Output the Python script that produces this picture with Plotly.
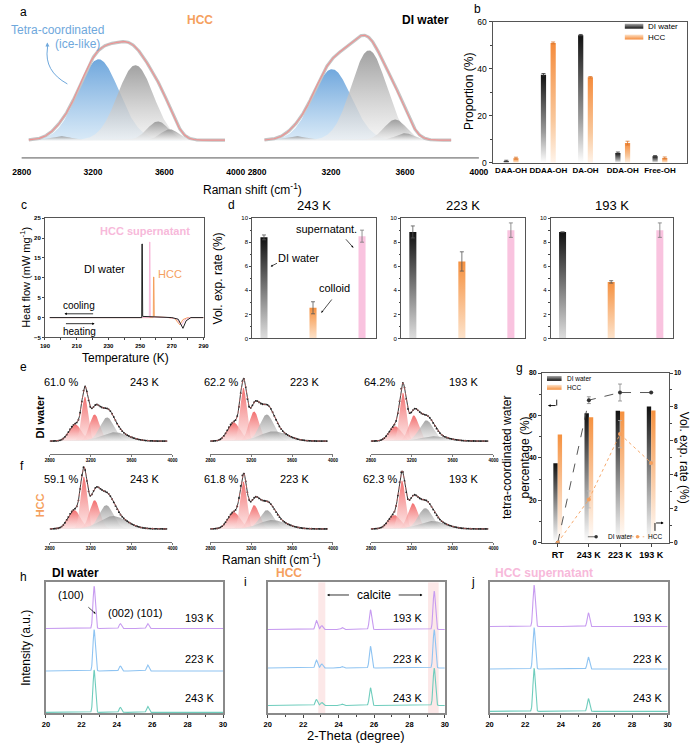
import numpy as np
import plotly.graph_objects as go

W, H = 700, 747
FONT = "Liberation Sans, Arial, Helvetica, sans-serif"
ORANGE = "#F5A05E"
PINK = "#F7B9DA"
PINK_BAR = "#F9C3DF"
BLUE_TXT = "#6FA8DC"

# ======================= DATA =======================
# (a) Raman O-H band, Gaussian fit components: centre (cm-1), sigma (cm-1), amplitude (a.u.)
a_ticks = [2800, 3200, 3600, 4000]
a_hcc_centers = [3018, 3231, 3438, 3564, 3629]
a_hcc_sigmas = [60, 115, 100, 60, 50]
a_hcc_amps = [4, 82, 76, 19, 11]
a_hcc_span = [2840, 3940]
a_di_centers = [3010, 3205, 3405, 3547, 3600]
a_di_sigmas = [60, 105, 95, 60, 50]
a_di_amps = [4, 72, 91, 21, 7]
a_di_span = [2840, 3850]
a_tetra_index = 1

# (b) proportions of H-bond species (%)
b_cats = ["DAA-OH", "DDAA-OH", "DA-OH", "DDA-OH", "Free-OH"]
b_di = [0.8, 37.5, 54.3, 4.2, 2.8]
b_di_err = [0.3, 0.5, 0.3, 0.4, 0.3]
b_hcc = [2.0, 51.0, 36.4, 8.4, 2.1]
b_hcc_err = [0.4, 0.4, 0.3, 0.8, 0.4]

# (c) DSC heat flow (mW mg-1) vs temperature (K)
c_di_T = [193, 251.0, 251.15, 251.35, 251.6, 270, 274, 277, 279, 282, 290]
c_di_Q = [0, 0, 18.5, 18.5, 0.3, 0, -0.4, -2.7, -0.8, 0, 0]
c_sup_T = [193, 255.8, 255.95, 256.15, 256.4, 268, 273, 276, 278, 281, 290]
c_sup_Q = [0, 0, 19.0, 19.0, 0.2, 0, -0.3, -2.0, -0.6, 0, 0]
c_hcc_T = [193, 258.3, 258.45, 258.65, 258.9, 268, 272, 275, 277, 280, 290]
c_hcc_Q = [0, 0, 10.2, 10.2, 0.2, 0, -0.3, -1.8, -0.5, 0, 0]

# (d) volume expansion rate (%)
d_temps = ["243 K", "223 K", "193 K"]
d_di = [8.4, 8.85, 8.85]
d_di_err = [0.2, 0.5, 0.0]
d_colloid = [2.55, 6.4, 4.7]
d_colloid_err = [0.5, 0.8, 0.1]
d_super = [8.5, 9.0, 9.0]
d_super_err = [0.5, 0.6, 0.6]

# (e)/(f) low-temperature Raman fits: 3 tetra (red) + 2 other (grey) components
ef_ticks = [2800, 3200, 3600, 4000]
ef_temps = ["243 K", "223 K", "193 K"]
e_pct = ["61.0 %", "62.2 %", "64.2%"]
f_pct = ["59.1 %", "61.8 %", "62.3 %"]
ef_sigmas = [60, 32, 50, 70, 130]
e_centers = [[3048, 3143, 3238, 3360, 3430], [3028, 3124, 3228, 3352, 3420], [3038, 3114, 3219, 3343, 3420]]
e_amps = [[17, 45, 27, 24, 9], [19, 54, 30, 27, 10], [15, 49, 26, 21, 5]]
f_centers = [[3038, 3133, 3238, 3352, 3420], [3030, 3124, 3228, 3352, 3410], [3030, 3105, 3210, 3333, 3400]]
f_amps = [[19, 53, 29, 24, 13], [17, 48, 24, 19, 9], [14, 49, 26, 21, 8]]
ef_red_count = 3
ef_span = [2800, 3950]

# (g) tetra-coordinated percentage (%) and expansion rate (%)
g_cats = ["RT", "243 K", "223 K", "193 K"]
g_tetra_di = [37.5, 61.0, 62.2, 64.2]
g_tetra_hcc = [51.0, 59.1, 61.8, 62.3]
g_vol_di = [0, 8.4, 8.85, 8.85]
g_vol_di_err = [0, 0.2, 0.5, 0]
g_vol_hcc = [0, 2.55, 6.4, 4.7]
g_vol_hcc_err = [0, 0.5, 0.8, 0.1]

# (h)(i)(j) XRD peaks: positions (deg 2-theta) and heights (a.u.) per temperature
xrd_temps = ["243 K", "223 K", "193 K"]
xrd_colors = ["#6FCDBD", "#8FC4F2", "#C79BF0"]
h_pos = [22.72, 24.2, 25.75]
h_heights = [[43, 5, 6], [42, 5, 6], [43, 5, 5]]
i_pos = [22.75, 23.05, 24.2, 25.8, 29.4]
i_heights = [[6, 3, 1.5, 18, 38], [8, 4, 1.5, 22, 39], [9, 4, 2, 20, 39]]
j_pos = [22.5, 25.55]
j_heights = [[44, 13], [42, 12], [42, 14]]
i_calcite_bands = [(22.85, 23.25), (29.05, 29.65)]
xrd_sigma = 0.065

# ======================= HELPERS =======================
traces, annots, shapes = [], [], []
layout = dict(width=W, height=H, margin=dict(l=0, r=0, t=0, b=0),
              paper_bgcolor="white", plot_bgcolor="rgba(0,0,0,0)",
              showlegend=False, font=dict(family=FONT, color="#000"))
OVX, OVY = "x30", "y30"
axis_n = [0]


def add_axes(x0, x1, ytop, ybot, xo=None, yo=None):
    axis_n[0] += 1
    n = axis_n[0]
    s = "" if n == 1 else str(n)
    base = dict(showgrid=False, zeroline=False)
    xd = dict(base, domain=[x0 / W, x1 / W], anchor="y" + s)
    xd.update(xo or {})
    yd = dict(base, domain=[1 - ybot / H, 1 - ytop / H], anchor="x" + s)
    yd.update(yo or {})
    layout["xaxis" + s] = xd
    layout["yaxis" + s] = yd
    return "x" + s, "y" + s


def box(color="#444", width=1):
    return dict(showline=True, linecolor=color, linewidth=width, mirror=True)


def tf(size, bold=False):
    d = dict(size=size, family=FONT, color="#000")
    if bold:
        d["weight"] = "bold"
    return d


def T(x, y, text, size=12, color="#000", bold=False, angle=0, xa="center", ya="middle"):
    annots.append(dict(x=x, y=y, xref=OVX, yref=OVY, text=("<b>%s</b>" % text) if bold else text,
                       showarrow=False, font=dict(size=size, color=color, family=FONT),
                       textangle=angle, xanchor=xa, yanchor=ya))


def ARROW(x0, y0, x1, y1, color="#000", width=0.8, size=0.7):
    annots.append(dict(x=x1, y=y1, ax=x0, ay=y0, xref=OVX, yref=OVY, axref=OVX, ayref=OVY,
                       showarrow=True, arrowhead=2, arrowsize=size, arrowwidth=width,
                       arrowcolor=color, text=""))


def LINE(x0, y0, x1, y1, color="#000", width=1, dash="solid"):
    shapes.append(dict(type="line", xref=OVX, yref=OVY, x0=x0, y0=y0, x1=x1, y1=y1,
                       line=dict(color=color, width=width, dash=dash)))


def gauss(x, c, s, a):
    return a * np.exp(-0.5 * ((x - c) / s) ** 2)


def grad_poly(xr, yr, xs, ys, cs, fill="toself"):
    traces.append(go.Scatter(x=xs, y=ys, xaxis=xr, yaxis=yr, mode="lines", line=dict(width=0),
                             fill=fill, fillgradient=dict(type="vertical", colorscale=cs),
                             hoverinfo="skip", showlegend=False))


def grad_bar(xr, yr, x0, x1, top, cs):
    grad_poly(xr, yr, [x0, x1, x1, x0, x0], [0, 0, top, top, 0], cs)


def err_pts(xr, yr, xs, ys, errs, color, width=2):
    traces.append(go.Scatter(x=xs, y=ys, xaxis=xr, yaxis=yr, mode="markers",
                             marker=dict(size=1, color="rgba(0,0,0,0)"),
                             error_y=dict(type="data", array=errs, color=color, thickness=0.8, width=width),
                             hoverinfo="skip", showlegend=False))


BLUE_GRAD = [[0, "rgba(210,230,246,0.85)"], [1, "rgba(100,160,218,0.92)"]]
GRAY_GRAD = [[0, "rgba(242,242,242,0.7)"], [1, "rgba(145,145,145,0.85)"]]
RED_GRAD = [[0, "rgba(252,218,218,0.65)"], [1, "rgba(240,85,85,0.85)"]]
GRAY2_GRAD = [[0, "rgba(236,236,236,0.65)"], [1, "rgba(150,150,150,0.85)"]]

# ======================= (a) =======================
for (px0, px1, cen, sig, amp, span) in [(13, 233, a_hcc_centers, a_hcc_sigmas, a_hcc_amps, a_hcc_span),
                                        (255, 483, a_di_centers, a_di_sigmas, a_di_amps, a_di_span)]:
    xr, yr = add_axes(px0, px1, 20, 155,
                      xo=dict(range=[2800, 4000], tickvals=a_ticks, tickfont=tf(8.5, True),
                              ticks="outside", ticklen=6, tickcolor="rgba(0,0,0,0)", showline=False),
                      yo=dict(range=[-18, 117], visible=False))
    xs = np.linspace(span[0], span[1], 450)
    total = np.zeros_like(xs)
    for k in range(len(cen)):
        total += gauss(xs, cen[k], sig[k], amp[k])
    order = [a_tetra_index] + [k for k in range(len(cen)) if k != a_tetra_index]
    for k in order:
        yk = gauss(xs, cen[k], sig[k], amp[k])
        grad_poly(xr, yr, xs, yk, BLUE_GRAD if k == a_tetra_index else GRAY_GRAD, fill="tozeroy")
    traces.append(go.Scatter(x=xs, y=total, xaxis=xr, yaxis=yr, mode="lines",
                             line=dict(color="#c4c4c4", width=3.2), hoverinfo="skip"))
    traces.append(go.Scatter(x=xs, y=total, xaxis=xr, yaxis=yr, mode="lines",
                             line=dict(color="#F09090", width=1.1), hoverinfo="skip"))
LINE(13, 155, 483, 155, "#555", 1)
T(15, 7, "a", 12)
T(196, 15, "HCC", 12, ORANGE, True)
T(428, 15, "DI water", 12, "#000", True)
T(0, 25, "Tetra-coordinated", 12, BLUE_TXT, xa="left")
T(70, 40, "(ice-like)", 12, BLUE_TXT)
T(250, 186, "Raman shift (cm<sup>-1</sup>)", 12)
shapes.append(dict(type="path", xref=OVX, yref=OVY, path="M 60 80 Q 36 67 39.5 44",
                   line=dict(color=BLUE_TXT, width=1)))
ARROW(39.6, 46, 39.4, 38, BLUE_TXT, 1, 0.8)

# ======================= (b) =======================
xb, yb = add_axes(497, 697, 17, 160,
                  xo=dict(range=[-0.5, 4.73], tickvals=list(range(len(b_cats))), ticktext=b_cats,
                          tickfont=tf(8, True), ticks="", **box("#555")),
                  yo=dict(range=[0, 60], tickvals=[0, 20, 40, 60], tickfont=tf(8.5), ticks="outside",
                          ticklen=3, minor=dict(ticks="outside", ticklen=2, dtick=10), **box("#555")))
B_DI = [[0, "rgba(255,255,255,1)"], [0.35, "#9a9a9a"], [1, "#111111"]]
B_HCC = [[0, "#fff4ea"], [0.35, "#f9c89c"], [1, "#F58B3B"]]
for i in range(len(b_cats)):
    grad_bar(xb, yb, i - 0.2, i - 0.06, b_di[i], B_DI)
    grad_bar(xb, yb, i + 0.06, i + 0.2, b_hcc[i], B_HCC)
err_pts(xb, yb, [i - 0.13 for i in range(len(b_cats))], b_di, b_di_err, "#333")
err_pts(xb, yb, [i + 0.13 for i in range(len(b_cats))], b_hcc, b_hcc_err, "#d9772e")
T(482, 4, "b", 12)
T(473, 88, "Proportion (%)", 12, angle=-90)
grad_poly("x30", "y30", [633, 652, 652, 633, 633], [19, 19, 24, 24, 19], [[0, "#111"], [1, "#aaa"]])
grad_poly("x30", "y30", [633, 652, 652, 633, 633], [30, 30, 35, 35, 30], [[0, "#F58B3B"], [1, "#fde2c8"]])
T(655, 22, "DI water", 8, xa="left")
T(655, 33, "HCC", 8, xa="left")

# ======================= (c) =======================
xc, yc = add_axes(37, 200, 216, 337,
                  xo=dict(range=[190, 290], tick0=190, dtick=20, tickfont=tf(6, True), ticks="outside",
                          ticklen=2, minor=dict(ticks="outside", ticklen=1.5, dtick=10), **box("#555")),
                  yo=dict(range=[-5, 25], dtick=5, tickfont=tf(6, True), ticks="outside", ticklen=2,
                          **box("#555")))
for tx, qy, col in [(c_hcc_T, c_hcc_Q, ORANGE), (c_sup_T, c_sup_Q, PINK), (c_di_T, c_di_Q, "#222")]:
    traces.append(go.Scatter(x=tx, y=qy, xaxis=xc, yaxis=yc, mode="lines",
                             line=dict(color=col, width=1), hoverinfo="skip"))
T(15, 203, "c", 12)
T(17, 276, "Heat flow (mW mg<sup>-1</sup>)", 11, angle=-90)
T(120, 358, "Temperature (K)", 12)
T(140, 229, "HCC supernatant", 11, PINK, True)
T(98, 268, "DI water", 11)
T(166, 273, "HCC", 11, ORANGE)
T(72, 305, "cooling", 10)
ARROW(88, 313, 57, 313, "#000", 0.8, 0.6)
T(72, 331, "heating", 10)
ARROW(57, 323, 88, 323, "#000", 0.8, 0.6)

# ======================= (d) =======================
D_DI = [[0, "#dedede"], [1, "#111111"]]
D_COL = [[0, "#fde3cb"], [1, "#F59140"]]
D_SUP = [[0, PINK_BAR], [1, PINK_BAR]]
for p, (px0, px1) in enumerate([(250, 377), (403, 530), (557, 683)]):
    xd, yd = add_axes(px0, px1, 216, 338,
                      xo=dict(range=[-0.24, 2.28], showticklabels=False, ticks="", **box("#555")),
                      yo=dict(range=[0, 10], dtick=2, tickfont=tf(6), ticks="outside", ticklen=2,
                              minor=dict(ticks="outside", ticklen=1.5, dtick=1), **box("#555")))
    grad_bar(xd, yd, -0.072, 0.072, d_di[p], D_DI)
    grad_bar(xd, yd, 1 - 0.072, 1 + 0.072, d_colloid[p], D_COL)
    grad_bar(xd, yd, 2 - 0.072, 2 + 0.072, d_super[p], D_SUP)
    err_pts(xd, yd, [0], [d_di[p]], [d_di_err[p]], "#555")
    err_pts(xd, yd, [1], [d_colloid[p]], [d_colloid_err[p]], "#555")
    err_pts(xd, yd, [2], [d_super[p]], [d_super_err[p]], "#777")
    T((px0 + px1) / 2, 203, d_temps[p], 13)
T(229, 203, "d", 12)
T(215, 277, "Vol. exp. rate (%)", 12, angle=-90)
T(326, 227, "supernatant.", 11)
ARROW(345, 236, 354, 246, "#000", 0.7, 0.6)
T(298, 256, "DI water", 11)
ARROW(277, 261, 269, 265, "#000", 0.7, 0.6)
T(335, 287, "colloid", 11)
ARROW(333, 297, 321, 312, "#000", 0.7, 0.6)

# ======================= (e)(f) =======================
col_px = [42, 207, 372]
rows = [(e_centers, e_amps, e_pct, 375, 455, 382, [139, 304, 467]),
        (f_centers, f_amps, f_pct, 464, 544, 480, [139, 293, 467])]
for r, (cens, amps, pcts, ytop, ybot, ylab, tx_temp) in enumerate(rows):
    for c in range(3):
        px0 = col_px[c]
        xe, ye = add_axes(px0, px0 + 126, ytop, ybot,
                          xo=dict(range=[2800, 4000], tickvals=ef_ticks, tickfont=tf(4.5, True),
                                  showline=True, linecolor="#777", linewidth=0.8, ticks="outside",
                                  ticklen=2, tickcolor="#777", tickwidth=0.6),
                          yo=dict(range=[-13, 67], visible=False))
        xs = np.linspace(ef_span[0], ef_span[1], 420)
        total = np.zeros_like(xs)
        for k in range(5):
            yk = gauss(xs, cens[c][k], ef_sigmas[k], amps[c][k])
            total += yk
            grad_poly(xe, ye, xs, yk, RED_GRAD if k < ef_red_count else GRAY2_GRAD, fill="tozeroy")
        traces.append(go.Scatter(x=xs, y=total, xaxis=xe, yaxis=ye, mode="lines",
                                 line=dict(color="#222", width=0.9), hoverinfo="skip"))
        traces.append(go.Scatter(x=xs[::6], y=total[::6], xaxis=xe, yaxis=ye, mode="markers",
                                 marker=dict(size=1.8, color="#222"), hoverinfo="skip"))
        traces.append(go.Scatter(x=xs, y=total, xaxis=xe, yaxis=ye, mode="lines",
                                 line=dict(color="#F07878", width=0.6, dash="dot"), hoverinfo="skip"))
        T(px0 + 11 if c < 2 else px0 + 9, ylab, pcts[c], 11)
        T(tx_temp[c], ylab, ef_temps[c], 11)
T(15, 367, "e", 12)
T(13, 467, "f", 12)
T(32, 417, "DI water", 11, "#000", True, angle=-90)
T(32, 507, "HCC", 11, ORANGE, True, angle=-90)
T(270, 562, "Raman shift (cm<sup>-1</sup>)", 12)

# ======================= (g) =======================
xg, yg = add_axes(548, 678, 373, 545,
                  xo=dict(range=[-0.5, 3.56], tickvals=list(range(len(g_cats))), ticktext=g_cats,
                          tickfont=tf(9, True), ticks="outside", ticklen=3, **box("#555")),
                  yo=dict(range=[0, 80], dtick=20, tickfont=tf(7, True), ticks="outside", ticklen=3,
                          minor=dict(ticks="outside", ticklen=2, dtick=10), **box("#555")))
ng = axis_n[0] + 1
axis_n[0] = ng
yg2 = "y%d" % ng
layout["yaxis%d" % ng] = dict(overlaying=yg, side="right", anchor=xg, range=[0, 10], dtick=2,
                              tickfont=tf(6.5, True), ticks="outside", ticklen=3, showgrid=False,
                              zeroline=False, showline=True, linecolor="#555",
                              minor=dict(ticks="outside", ticklen=2, dtick=1))
G_DI = [[0, "#ffffff"], [1, "#111111"]]
G_HCC = [[0, "#ffffff"], [1, "#F5913F"]]
for i in range(len(g_cats)):
    grad_bar(xg, yg, i - 0.14, i, g_tetra_di[i], G_DI)
    grad_bar(xg, yg, i, i + 0.14, g_tetra_hcc[i], G_HCC)
traces.append(go.Scatter(x=list(range(4)), y=g_vol_di, xaxis=xg, yaxis=yg2, mode="lines+markers",
                         line=dict(color="#444", width=0.9, dash="dash"),
                         marker=dict(size=4, color="#333"),
                         error_y=dict(type="data", array=g_vol_di_err, color="#777", thickness=0.7, width=2),
                         hoverinfo="skip"))
traces.append(go.Scatter(x=list(range(4)), y=g_vol_hcc, xaxis=xg, yaxis=yg2, mode="lines+markers",
                         line=dict(color=ORANGE, width=0.9, dash="dot"),
                         marker=dict(size=4, color=ORANGE),
                         error_y=dict(type="data", array=g_vol_hcc_err, color="#bbb", thickness=0.7, width=2),
                         hoverinfo="skip"))
T(525, 368, "g", 12)
T(512, 459, "tetra-coordinated water", 12, angle=-90)
T(530, 459, "percentage (%)", 12, angle=-90)
T(694, 459, "Vol. exp. rate (%)", 12, angle=90)
# legend (top-left)
grad_poly(OVX, OVY, [553, 568, 568, 553, 553], [376, 376, 381, 381, 376], [[0, "#111"], [1, "#aaa"]])
grad_poly(OVX, OVY, [553, 568, 568, 553, 553], [385, 385, 390, 390, 385], [[0, "#F5913F"], [1, "#fde2c8"]])
T(571, 378.5, "DI water", 6.5, xa="left")
T(571, 387.5, "HCC", 6.5, xa="left")
LINE(563, 400, 563, 406, "#000", 0.9)
ARROW(563.4, 406, 554, 406, "#000", 0.9, 0.6)
# legend (bottom-right)
traces.append(go.Scatter(x=[595, 612], y=[539, 539], xaxis=OVX, yaxis=OVY, mode="lines",
                         line=dict(color="#444", width=0.8, dash="dash"), hoverinfo="skip"))
traces.append(go.Scatter(x=[603.5], y=[539], xaxis=OVX, yaxis=OVY, mode="markers",
                         marker=dict(size=3.5, color="#333"), hoverinfo="skip"))
traces.append(go.Scatter(x=[639, 653], y=[539, 539], xaxis=OVX, yaxis=OVY, mode="lines",
                         line=dict(color=ORANGE, width=0.8, dash="dot"), hoverinfo="skip"))
traces.append(go.Scatter(x=[646], y=[539], xaxis=OVX, yaxis=OVY, mode="markers",
                         marker=dict(size=3.5, color=ORANGE), hoverinfo="skip"))
T(614, 539, "DI water", 6.5, xa="left")
T(655, 539, "HCC", 6.5, xa="left")
LINE(664, 533, 664, 525, "#000", 0.9)
ARROW(663.6, 525, 673, 525, "#000", 0.9, 0.6)

# ======================= (h)(i)(j) =======================
xx = np.linspace(20, 30, 1201)
panels = [(38, 220, h_pos, h_heights, [1, 43, 86]),
          (266, 448, i_pos, i_heights, [8, 46, 85]),
          (494, 677, j_pos, j_heights, [2, 45, 88])]
for pi, (px0, px1, pos, hts, offs) in enumerate(panels):
    xh, yh = add_axes(px0, px1, 585, 718,
                      xo=dict(range=[20, 30], tick0=20, dtick=2, tickfont=tf(7.5, True), ticks="outside",
                              ticklen=3, minor=dict(ticks="outside", ticklen=2, dtick=1),
                              **box("#8a8a8a", 1.6)),
                      yo=dict(range=[0, 133], showticklabels=False, ticks="", **box("#8a8a8a", 1.6)))
    if pi == 1:
        for (b0, b1) in i_calcite_bands:
            shapes.append(dict(type="rect", xref=xh, yref=yh, x0=b0, x1=b1, y0=0, y1=133,
                               fillcolor="rgba(248,205,205,0.45)", line=dict(width=0), layer="below"))
    for t in range(3):
        yv = np.full_like(xx, offs[t], dtype=float)
        for k in range(len(pos)):
            yv = yv + gauss(xx, pos[k], xrd_sigma, hts[t][k])
        traces.append(go.Scatter(x=xx, y=yv, xaxis=xh, yaxis=yh, mode="lines",
                                 line=dict(color=xrd_colors[t], width=1.1), hoverinfo="skip"))
T(15, 580, "h", 12)
T(42, 576, "DI water", 12, "#000", True, xa="left")
T(243, 585, "i", 12)
T(272, 576, "HCC", 12, ORANGE, True, xa="left")
T(477, 585, "j", 12)
T(498, 576, "HCC supernatant", 12, PINK, True, xa="left")
T(64, 598, "(100)", 11)
ARROW(80, 609, 89, 617, "#000", 0.7, 0.6)
T(130, 616, "(002) (101)", 11)
for cx in [196, 410, 656]:
    T(cx, 621, "193 K", 11)
    T(cx, 663, "223 K", 11)
    T(cx, 702, "243 K", 11)
T(375, 598, "calcite", 12)
ARROW(351, 598, 327, 598, "#000", 0.8, 0.6)
ARROW(399, 598, 425, 598, "#000", 0.8, 0.6)
T(357, 740, "2-Theta (degree)", 13)
T(18, 652, "Intensity (a.u.)", 12, angle=-90)

# ======================= overlay axis =======================
layout["xaxis30"] = dict(domain=[0, 1], range=[0, W], visible=False, anchor="y30", fixedrange=True)
layout["yaxis30"] = dict(domain=[0, 1], range=[H, 0], visible=False, anchor="x30", fixedrange=True)
layout["annotations"] = annots
layout["shapes"] = shapes

fig = go.Figure(data=traces)
fig.update_layout(**layout)
fig.write_html("out.html")
